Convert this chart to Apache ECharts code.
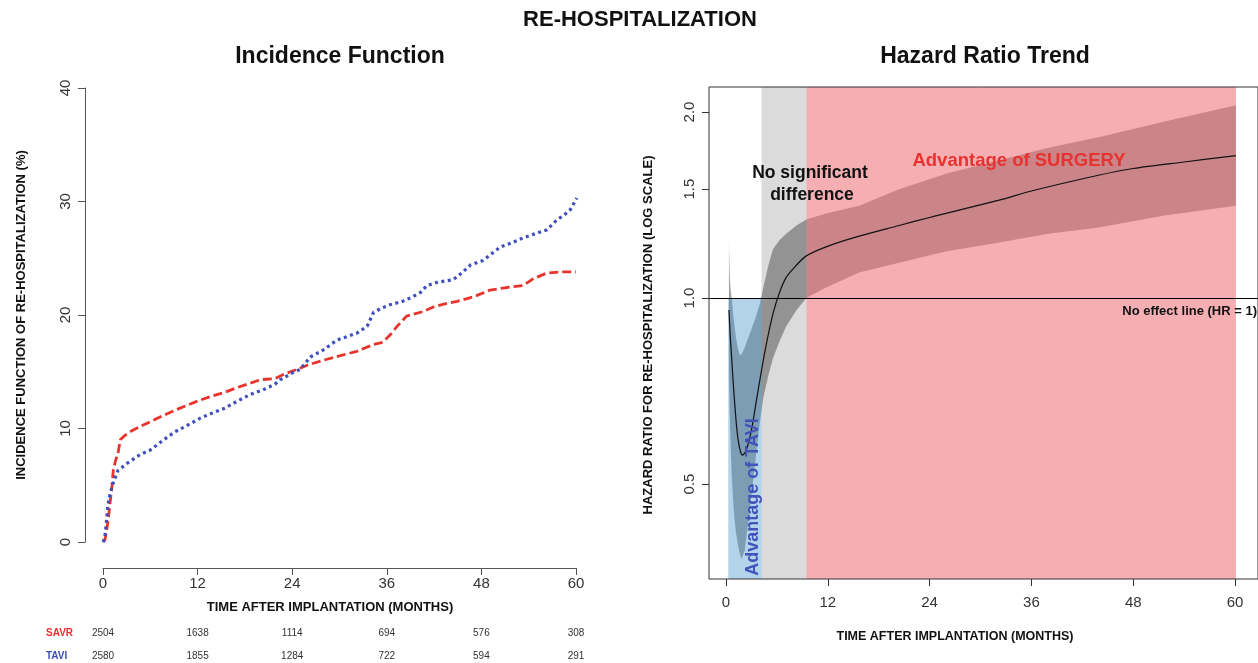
<!DOCTYPE html>
<html><head><meta charset="utf-8">
<script src="https://cdn.jsdelivr.net/npm/echarts@6/dist/echarts.min.js"></script>
<style>html,body{margin:0;padding:0;background:#fff}#c{width:1258px;height:663px}</style>
</head><body><div id="c"></div>
<script>
const FONT = '"Liberation Sans", Arial, Helvetica, sans-serif';

// ---------- Left panel data: cumulative incidence (%) ----------
const monthTicks = [0, 12, 24, 36, 48, 60];
const savrMonths = [0, 0.25, 0.5, 0.7, 0.9, 1.1, 1.3, 1.6, 1.9, 2.2, 2.8, 3.4, 4.5, 6, 7.5, 9.1, 10.5, 12.3, 14, 15.5, 17, 18.7, 20, 21.8, 23, 24.6, 26, 27.9, 30, 32.2, 34.3, 35.5, 36.5, 37.3, 38.5, 40.6, 41.9, 43.5, 44.9, 47, 49.1, 51, 53.3, 54.6, 56.3, 58, 60];
const savrValues = [0, 0.2, 1.2, 2.2, 3.5, 4.6, 6.3, 7.2, 7.8, 9.0, 9.4, 9.7, 10.1, 10.6, 11.1, 11.6, 12.0, 12.5, 12.9, 13.2, 13.6, 14.0, 14.3, 14.4, 14.8, 15.2, 15.6, 16.0, 16.4, 16.8, 17.4, 17.6, 18.3, 19.0, 19.9, 20.3, 20.7, 21.0, 21.2, 21.6, 22.2, 22.4, 22.6, 23.2, 23.7, 23.8, 23.8];
const taviMonths = [0, 0.2, 0.4, 0.6, 0.9, 1.3, 1.9, 3.0, 4.7, 6, 7.5, 9.1, 10.5, 12.3, 14, 15.5, 17, 18.7, 20.3, 21.8, 22.5, 24, 25, 26.3, 27.9, 29.7, 31, 32.2, 33.5, 34.3, 35.3, 36.4, 38, 39.3, 40.3, 41.1, 42.5, 44.4, 45.5, 46.6, 48.2, 49.3, 50.4, 52, 53.3, 55, 56.3, 57.6, 58.5, 59.3, 60.1];
const taviValues = [0, 0.3, 1.5, 3.1, 4.3, 5.2, 6.3, 6.9, 7.7, 8.1, 8.9, 9.7, 10.2, 10.9, 11.4, 11.8, 12.4, 13.0, 13.4, 13.9, 14.3, 14.9, 15.2, 16.3, 16.9, 17.8, 18.1, 18.4, 19.0, 20.2, 20.6, 20.9, 21.2, 21.6, 22.0, 22.6, 22.9, 23.1, 23.7, 24.4, 24.8, 25.4, 26.0, 26.4, 26.8, 27.2, 27.5, 28.4, 28.8, 29.3, 30.3];
const riskSAVR = [2504, 1638, 1114, 694, 576, 308];
const riskTAVI = [2580, 1855, 1284, 722, 594, 291];

// ---------- Right panel data: hazard ratio (log scale) ----------
const hrMonths = [0.35, 0.5, 0.67, 0.85, 1.06, 1.25, 1.44, 1.7, 1.95, 2.4, 3.0, 3.6, 4.2, 4.78, 5.55, 6.3, 7.1, 8.3, 9.47, 11.8, 14.9, 20.4, 24, 32.2, 36, 43.9, 48, 54, 60.1];
const hrValues = [0.956, 0.87, 0.80, 0.73, 0.667, 0.62, 0.589, 0.565, 0.557, 0.568, 0.611, 0.684, 0.765, 0.845, 0.944, 1.02, 1.08, 1.13, 1.17, 1.21, 1.25, 1.31, 1.35, 1.44, 1.49, 1.58, 1.62, 1.66, 1.70];
const bandMonths = [0.35, 0.4, 0.45, 0.55, 0.67, 0.85, 1.0, 1.2, 1.4, 1.6, 1.84, 2.2, 2.6, 3.0, 3.5, 4.0, 4.4, 5.0, 5.55, 6.3, 7.1, 8.3, 9.47, 11.8, 15.7, 20.4, 26, 32.2, 38, 43.9, 51.7, 60.1];
const bandUpper = [1.23, 1.15, 1.08, 1.03, 1.0, 0.94, 0.90, 0.86, 0.83, 0.81, 0.81, 0.83, 0.86, 0.89, 0.93, 0.98, 1.04, 1.13, 1.20, 1.24, 1.27, 1.31, 1.34, 1.37, 1.41, 1.50, 1.59, 1.67, 1.75, 1.82, 1.93, 2.05];
const bandLower = [0.75, 0.70, 0.65, 0.58, 0.52, 0.47, 0.44, 0.415, 0.40, 0.387, 0.378, 0.39, 0.43, 0.48, 0.55, 0.63, 0.69, 0.75, 0.80, 0.85, 0.90, 0.955, 1.0, 1.04, 1.10, 1.14, 1.19, 1.23, 1.27, 1.30, 1.36, 1.41];
const hrTicks = [0.5, 1.0, 1.5, 2.0];
const hrAxisRange = [0.351, 2.195];
const regionTAVI = [0.27, 4.2];      // months, below HR = 1
const regionNS = [4.2, 9.47];        // months, full height
const regionSurgery = [9.47, 60.1];  // months, full height

// ---------- chart ----------
const chart = echarts.init(document.getElementById('c'), null, {renderer: 'canvas'});
const ln = Math.log;
const yMinR = ln(hrAxisRange[0]), yMaxR = ln(hrAxisRange[1]);
const axisGray = '#555';
const lbl = {fontFamily: FONT, fontSize: 15, color: '#333'};

const regionData = [
  [regionTAVI[0], regionTAVI[1], yMinR, 0],
  [regionNS[0], regionNS[1], yMinR, yMaxR],
  [regionSurgery[0], regionSurgery[1], yMinR, yMaxR]
];
const regionColors = ['rgba(74,150,205,0.42)', 'rgba(89,89,89,0.22)', 'rgba(237,110,115,0.55)'];
const bandData = bandMonths.map((m, i) => [m, ln(bandLower[i]), ln(bandUpper[i])]);

const option = {
  backgroundColor: '#fff',
  animation: false,
  title: [
    {text: 'RE-HOSPITALIZATION', left: 640, top: 9, textAlign: 'center', padding: 0,
     textStyle: {fontFamily: FONT, fontSize: 22, fontWeight: 'bold', color: '#111'}},
    {text: 'Incidence Function', left: 340, top: 45, textAlign: 'center', padding: 0,
     textStyle: {fontFamily: FONT, fontSize: 23, fontWeight: 'bold', color: '#111'}},
    {text: 'Hazard Ratio Trend', left: 985, top: 45, textAlign: 'center', padding: 0,
     textStyle: {fontFamily: FONT, fontSize: 23, fontWeight: 'bold', color: '#111'}}
  ],
  grid: [
    {left: 103, top: 88, width: 473, height: 454, show: false},
    {left: 709, top: 87, width: 551, height: 492, show: true, z: 10,
     borderColor: '#333', borderWidth: 1, backgroundColor: 'transparent'}
  ],
  xAxis: [
    {type: 'value', gridIndex: 0, min: 0, max: 60, interval: 12, offset: 26,
     axisLine: {show: true, onZero: false, lineStyle: {color: axisGray, width: 1}},
     axisTick: {show: true, length: 7, lineStyle: {color: axisGray}},
     axisLabel: Object.assign({margin: 8}, lbl), splitLine: {show: false}},
    {type: 'value', gridIndex: 1, min: -2, max: 62.7,
     axisLine: {show: false, onZero: false},
     axisTick: {show: true, length: 7, customValues: monthTicks, lineStyle: {color: '#333'}},
     axisLabel: Object.assign({margin: 16, customValues: monthTicks}, lbl), splitLine: {show: false}}
  ],
  yAxis: [
    {type: 'value', gridIndex: 0, min: 0, max: 40, interval: 10, offset: 18,
     axisLine: {show: true, onZero: false, lineStyle: {color: axisGray, width: 1}},
     axisTick: {show: true, length: 7, lineStyle: {color: axisGray}},
     axisLabel: Object.assign({margin: 12, rotate: 90}, lbl), splitLine: {show: false}},
    {type: 'value', gridIndex: 1, min: yMinR, max: yMaxR,
     axisLine: {show: false, onZero: false},
     axisTick: {show: true, length: 7, customValues: hrTicks.map(ln), lineStyle: {color: '#333'}},
     axisLabel: Object.assign({margin: 12, rotate: 90, customValues: hrTicks.map(ln),
       formatter: v => Math.exp(v).toFixed(1)}, lbl), splitLine: {show: false}}
  ],
  series: [
    {name: 'SAVR', type: 'line', xAxisIndex: 0, yAxisIndex: 0, showSymbol: false,
     data: savrMonths.map((m, i) => [m, savrValues[i]]),
     lineStyle: {color: '#e8342c', width: 2.8, type: [9, 4]}},
    {name: 'TAVI', type: 'line', xAxisIndex: 0, yAxisIndex: 0, showSymbol: false,
     data: taviMonths.map((m, i) => [m, taviValues[i]]),
     lineStyle: {color: '#3f4fbd', width: 3.2, type: [3, 3.5]}},
    {name: 'CI band', type: 'custom', xAxisIndex: 1, yAxisIndex: 1, z: 1, silent: true,
     data: bandData, encode: {x: 0, y: [1, 2]},
     renderItem: function (params, api) {
       if (params.dataIndex !== 0) return null;
       const pts = [];
       for (let i = 0; i < bandData.length; i++) pts.push(api.coord([bandData[i][0], bandData[i][2]]));
       for (let i = bandData.length - 1; i >= 0; i--) pts.push(api.coord([bandData[i][0], bandData[i][1]]));
       return {type: 'polygon', shape: {points: pts}, style: {fill: '#a3a3a3'}};
     }},
    {name: 'regions', type: 'custom', xAxisIndex: 1, yAxisIndex: 1, z: 2, silent: true,
     data: regionData, encode: {x: [0, 1], y: [2, 3]},
     renderItem: function (params, api) {
       const p0 = api.coord([api.value(0), api.value(3)]);
       const p1 = api.coord([api.value(1), api.value(2)]);
       return {type: 'rect', shape: {x: p0[0], y: p0[1], width: p1[0] - p0[0], height: p1[1] - p0[1]},
               style: {fill: regionColors[params.dataIndex]}};
     }},
    {name: 'HR', type: 'line', xAxisIndex: 1, yAxisIndex: 1, z: 3, showSymbol: false, smooth: 0.3,
     data: hrMonths.map((m, i) => [m, ln(hrValues[i])]),
     lineStyle: {color: '#111', width: 1.2},
     markLine: {silent: true, symbol: 'none', label: {show: false},
       lineStyle: {color: '#000', width: 1.2, type: 'solid'}, data: [{yAxis: 0}]}}
  ]
};
chart.setOption(option);

function txt(x, y, text, font, fill, align, rot) {
  return {type: 'text', x: x, y: y, rotation: rot || 0, z: 20, silent: true,
    style: {text: text, x: 0, y: 0, font: font, fill: fill,
      align: align || 'center', verticalAlign: 'middle',
      textAlign: align || 'center', textVerticalAlign: 'middle'}};
}
const els = [];
els.push(txt(330, 607, 'TIME AFTER IMPLANTATION (MONTHS)', 'bold 13px ' + FONT, '#111'));
els.push(txt(21, 315, 'INCIDENCE FUNCTION OF RE-HOSPITALIZATION (%)', 'bold 13px ' + FONT, '#111', 'center', Math.PI / 2));
els.push(txt(955, 637, 'TIME AFTER IMPLANTATION (MONTHS)', 'bold 12.5px ' + FONT, '#111'));
els.push(txt(648, 335, 'HAZARD RATIO FOR RE-HOSPITALIZATION (LOG SCALE)', 'bold 13px ' + FONT, '#111', 'center', Math.PI / 2));
els.push(txt(46, 633, 'SAVR', 'bold 10px ' + FONT, '#e8312d', 'left'));
els.push(txt(46, 656, 'TAVI', 'bold 10px ' + FONT, '#3c4fb3', 'left'));
monthTicks.forEach((m, i) => {
  const x = chart.convertToPixel({xAxisIndex: 0}, m);
  els.push(txt(x, 633, String(riskSAVR[i]), '10px ' + FONT, '#333'));
  els.push(txt(x, 656, String(riskTAVI[i]), '10px ' + FONT, '#333'));
});
els.push(txt(810, 173, 'No significant', 'bold 17.5px ' + FONT, '#111'));
els.push(txt(812, 195, 'difference', 'bold 17.5px ' + FONT, '#111'));
els.push(txt(1019, 161, 'Advantage of SURGERY', 'bold 18.5px ' + FONT, '#e8322f'));
els.push(txt(753, 497, 'Advantage of TAVI', 'bold 18px ' + FONT, '#4352b8', 'center', Math.PI / 2));
els.push(txt(1257, 311, 'No effect line (HR = 1)', 'bold 13px ' + FONT, '#111', 'right'));
chart.setOption({graphic: {elements: els}});
</script></body></html>
